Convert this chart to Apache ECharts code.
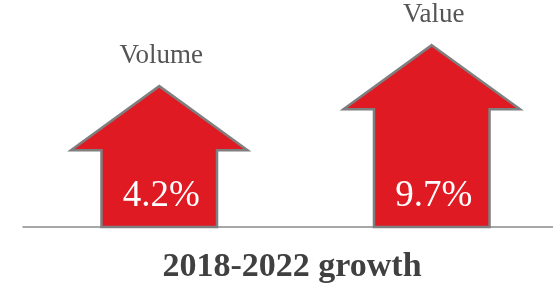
<!DOCTYPE html>
<html>
<head>
<meta charset="utf-8">
<script src="https://cdn.jsdelivr.net/npm/echarts@6/dist/echarts.min.js"></script>
<style>
  html, body { margin: 0; padding: 0; background: #fff; }
  #chart { width: 553px; height: 286px; }
</style>
</head>
<body>
<div id="chart"></div>
<script>
const categories = ['Volume', 'Value']
const growth = [4.2, 9.7]
const valueLabels = ['4.2%', '9.7%']
const chartTitle = '2018-2022 growth'

const Y_MIN = -14.7
const Y_MAX = 12
const serif = '"Liberation Serif", "DejaVu Serif", serif'

const chart = echarts.init(document.getElementById('chart'))

function renderArrow (params, api) {
  const idx = api.value(0)
  const v = api.value(1)
  const tip = api.coord([idx, v])
  const base = api.coord([idx, Y_MIN])
  const band = api.size([1, 0])[0]
  const cx = tip[0]
  const shaftHalf = band * 0.212
  const headHalf = band * 0.324
  const headH = 64
  const shoulder = tip[1] + headH
  return {
    type: 'group',
    children: [{
      type: 'polygon',
      shape: {
        points: [
          [cx, tip[1]],
          [cx + headHalf, shoulder],
          [cx + shaftHalf, shoulder],
          [cx + shaftHalf, base[1]],
          [cx - shaftHalf, base[1]],
          [cx - shaftHalf, shoulder],
          [cx - headHalf, shoulder]
        ]
      },
      style: { fill: '#df1a23', stroke: '#7f7f7f', lineWidth: 2.5, lineJoin: 'miter' }
    }, {
      type: 'text',
      style: {
        text: valueLabels[params.dataIndex],
        x: cx + 2,
        y: base[1] - 12,
        align: 'center',
        verticalAlign: 'bottom',
        fill: '#fff',
        font: '37px ' + serif
      }
    }, {
      type: 'text',
      style: {
        text: categories[params.dataIndex],
        x: cx + 2,
        y: tip[1] - 17,
        align: 'center',
        verticalAlign: 'bottom',
        fill: '#555',
        font: '27px ' + serif
      }
    }]
  }
}

chart.setOption({
  backgroundColor: '#fff',
  animation: false,
  title: {
    text: chartTitle,
    left: 287,
    top: 245,
    textAlign: 'center',
    textStyle: { color: '#404040', fontSize: 34, fontWeight: 'bold', fontFamily: serif }
  },
  grid: { left: 23, width: 545, top: 28, bottom: 59, containLabel: false, outerBoundsMode: 'none' },
  xAxis: {
    type: 'category',
    data: categories,
    axisLine: { show: true, onZero: false, lineStyle: { color: '#8a8a8a', width: 1.5 } },
    axisTick: { show: false },
    axisLabel: { show: false },
    splitLine: { show: false }
  },
  yAxis: {
    type: 'value',
    min: Y_MIN,
    max: Y_MAX,
    show: false,
    splitLine: { show: false }
  },
  series: [{
    type: 'custom',
    renderItem: renderArrow,
    encode: { x: 0, y: 1 },
    data: growth.map((v, i) => [i, v]),
    z: 1
  }]
})
</script>
</body>
</html>
